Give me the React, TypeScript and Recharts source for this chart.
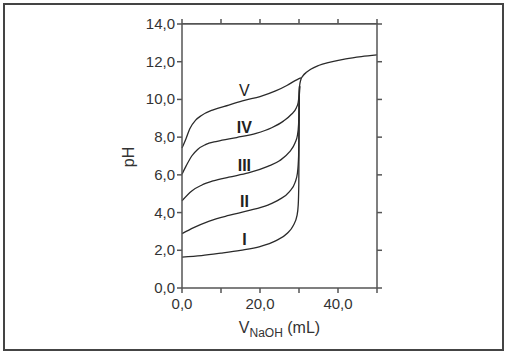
import { LineChart, Line, XAxis, YAxis, ReferenceDot, Label } from "recharts";

// titration curves, volume NaOH (mL) vs pH
const volI = [0, 5, 10, 15, 20, 24, 27, 28.5, 29.5, 29.8, 29.95, 30.05, 30.15, 30.4];
const phI = [1.64, 1.72, 1.85, 2.0, 2.2, 2.5, 2.9, 3.3, 3.85, 4.4, 5.5, 9.5, 10.7, 11.0];

const volII = [0, 3, 7, 12, 17, 22, 25, 27.5, 29, 29.6, 29.9, 30.05, 30.15];
const phII = [2.88, 3.2, 3.55, 3.85, 4.1, 4.4, 4.7, 5.1, 5.6, 6.1, 7.0, 9.8, 10.7];

const volIII = [0, 2.5, 5, 8, 12, 17, 22, 25, 27.5, 29, 29.6, 29.9, 30.05, 30.15];
const phIII = [4.63, 5.15, 5.45, 5.68, 5.88, 6.1, 6.45, 6.75, 7.2, 7.7, 8.1, 8.7, 10.0, 10.7];

const volIV = [0, 1, 2.5, 4, 6, 9, 14, 19, 23, 26, 28, 29.3, 29.8, 30.0, 30.15];
const phIV = [6.04, 6.45, 7.0, 7.35, 7.6, 7.78, 7.98, 8.2, 8.5, 8.85, 9.2, 9.55, 9.85, 10.2, 10.7];

const volV = [0, 1, 2, 3.5, 5, 8, 12, 16, 20, 24, 27, 29, 30, 30.5];
const phV = [7.42, 7.9, 8.45, 8.9, 9.15, 9.45, 9.7, 9.95, 10.15, 10.45, 10.75, 11.0, 11.1, 11.15];

// excess base, shared by every curve after the equivalence point
const tailVol = [31, 32, 33, 35, 38, 42, 46, 50];
const tailPh = [11.25, 11.45, 11.6, 11.8, 11.98, 12.15, 12.27, 12.36];

const xTicks = [0, 10, 20, 30, 40, 50];
const yTicks = [0, 1, 2, 3, 4, 5, 6, 7, 8, 9, 10, 11, 12, 13, 14];

const curveNames = ["I", "II", "III", "IV", "V"];
const labelVol = [16, 16, 16, 16, 16];
const labelPh = [2.6, 4.59, 6.53, 8.53, 10.5];

const toPoints = (vol: number[], ph: number[]) => vol.map((v, i) => ({ v, ph: ph[i] }));

const curves = [
  toPoints(volI.concat(tailVol), phI.concat(tailPh)),
  toPoints(volII, phII),
  toPoints(volIII, phIII),
  toPoints(volIV, phIV),
  toPoints(volV, phV),
];

const fmt = (n: number) => n.toFixed(1).replace(".", ",");
const FONT = "'Liberation Sans', Arial, sans-serif";
const AXIS = "#555";

const EmptyTick = () => <g />;

const XTick = ({ x, y, payload }: any) =>
  payload.value % 20 === 0 ? (
    <text x={x} y={y} dy={12} textAnchor="middle" fontSize={15} fill="#333" fontFamily={FONT}>
      {fmt(payload.value)}
    </text>
  ) : (
    <g />
  );

const YTick = ({ x, y, payload }: any) =>
  payload.value % 2 === 0 ? (
    <text x={x} y={y} dy={5} textAnchor="end" fontSize={15} fill="#333" fontFamily={FONT}>
      {fmt(payload.value)}
    </text>
  ) : (
    <g />
  );

const XTitle = ({ viewBox }: any) => {
  const cx = viewBox.x + viewBox.width / 2;
  return (
    <text x={cx} y={333} textAnchor="middle" fontSize={16} fill="#333" fontFamily={FONT}>
      <tspan>V</tspan>
      <tspan fontSize={12} dy={4}>NaOH</tspan>
      <tspan dy={-4}> (mL)</tspan>
    </text>
  );
};

const YTitle = () => (
  <text
    x={128}
    y={157}
    transform="rotate(-90 128 157)"
    textAnchor="middle"
    dominantBaseline="central"
    fontSize={16}
    fill="#333"
    fontFamily={FONT}
  >
    pH
  </text>
);

export default function App() {
  return (
    <div style={{ position: "absolute", left: 0, top: 0, width: 507, height: 356, background: "#fff" }}>
      <div
        style={{
          position: "absolute",
          left: 3,
          top: 3,
          width: 501,
          height: 348,
          border: "2px solid #444",
          boxSizing: "border-box",
        }}
      />
      <div style={{ position: "absolute", left: 0, top: 0 }}>
        <LineChart width={507} height={356} margin={{ top: 4, right: 120, bottom: 0, left: 0 }}>
          <XAxis
            xAxisId="b"
            type="number"
            dataKey="v"
            domain={[0, 50]}
            ticks={xTicks}
            height={68}
            tickSize={5}
            tickMargin={4}
            tick={XTick}
            stroke={AXIS}
            strokeWidth={1.5}
          >
            <Label content={XTitle} />
          </XAxis>
          <XAxis
            xAxisId="t"
            orientation="top"
            type="number"
            dataKey="v"
            domain={[0, 50]}
            ticks={xTicks}
            height={20}
            tickSize={5}
            tick={EmptyTick}
            stroke={AXIS}
            strokeWidth={1.5}
          />
          <YAxis
            yAxisId="l"
            type="number"
            dataKey="ph"
            domain={[0, 14]}
            ticks={yTicks}
            width={182}
            tickSize={5}
            tickMargin={2}
            tick={YTick}
            stroke={AXIS}
            strokeWidth={1.5}
          >
            <Label content={YTitle} />
          </YAxis>
          <YAxis
            yAxisId="r"
            orientation="right"
            type="number"
            dataKey="ph"
            domain={[0, 14]}
            ticks={yTicks}
            width={10}
            tickSize={5}
            tick={EmptyTick}
            stroke={AXIS}
            strokeWidth={1.5}
          />
          {/* invisible series so the mirrored top and right axes get drawn */}
          <Line
            xAxisId="t"
            yAxisId="l"
            data={curves[0]}
            dataKey="ph"
            stroke="none"
            dot={false}
            activeDot={false}
            isAnimationActive={false}
          />
          <Line
            xAxisId="b"
            yAxisId="r"
            data={curves[0]}
            dataKey="ph"
            stroke="none"
            dot={false}
            activeDot={false}
            isAnimationActive={false}
          />
          {curves.map((pts, i) => (
            <Line
              key={curveNames[i]}
              xAxisId="b"
              yAxisId="l"
              data={pts}
              dataKey="ph"
              type="monotone"
              stroke="#2a2a2a"
              strokeWidth={1.3}
              dot={false}
              isAnimationActive={false}
            />
          ))}
          {curveNames.map((name, i) => (
            <ReferenceDot
              key={"lbl" + name}
              xAxisId="b"
              yAxisId="l"
              x={labelVol[i]}
              y={labelPh[i]}
              r={0}
              fill="none"
              stroke="none"
              label={{
                value: name,
                position: "center",
                fontSize: 16,
                fontWeight: name === "V" ? 400 : 700,
                fill: "#222",
                fontFamily: FONT,
              }}
            />
          ))}
        </LineChart>
      </div>
      {/* top edge of the plot box, drawn over the chart */}
      <div
        style={{
          position: "absolute",
          left: 182,
          top: 23,
          width: 196,
          height: 0,
          borderTop: `1.5px solid ${AXIS}`,
        }}
      />
    </div>
  );
}
